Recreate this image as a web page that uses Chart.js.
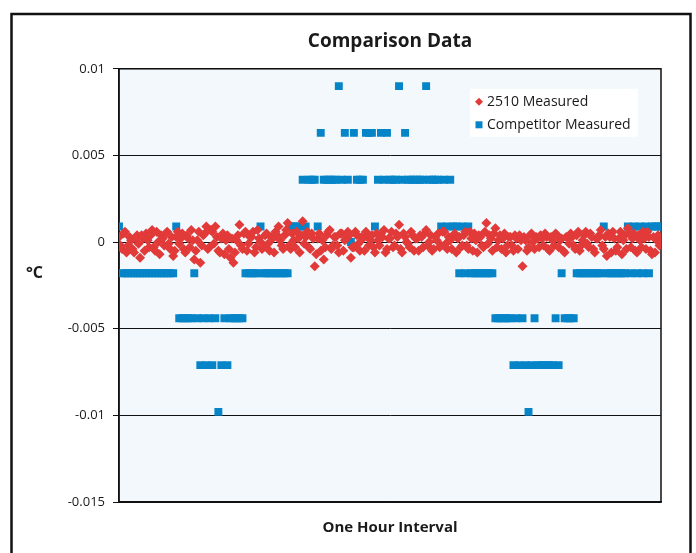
<!DOCTYPE html>
<html>
<head>
<meta charset="utf-8">
<script src="https://cdn.jsdelivr.net/npm/chart.js@4"></script>
<style>
html, body { margin: 0; padding: 0; background: #fff; }
#wrap { width: 696px; height: 553px; position: relative; }
</style>
</head>
<body>
<div id="wrap"><canvas id="chart"></canvas></div>
<script>
// competitor sensor: 181 readings over the hour; 2510: 361 readings (twice as often)
const competitorIndex = Array.from({ length: 181 }, (_, i) => i)
const measuredIndex = Array.from({ length: 361 }, (_, i) => i / 2)

const measured2510 = [
  0.0003, -0.0002, -0.0004, 0.0005, 0.0006, -0.0006, -0.0002, 0.0003, 0.0001, -0.0004,
  -0.0006, 0.0002, 0.0004, -0.0001, -0.0009, 0.0004, 0.0002, -0.0005, 0.0005, 0.0001,
  -0.0003, 0.0004, 0.0007, -0.0003, -0.0005, 0.0006, 0.0000, -0.0007, 0.0004, 0.0002,
  -0.0002, 0.0005, 0.0006, -0.0001, -0.0004, 0.0003, -0.0008, -0.0005, 0.0003, 0.0006,
  -0.0001, 0.0002, 0.0005, -0.0004, -0.0006, 0.0004, 0.0002, -0.0003, 0.0007, 0.0001,
  -0.0010, -0.0005, 0.0001, 0.0006, -0.0012, -0.0002, 0.0004, 0.0005, 0.0009, -0.0004,
  -0.0003, 0.0007, 0.0006, -0.0001, 0.0009, 0.0003, -0.0005, -0.0006, 0.0002, 0.0005,
  -0.0007, 0.0001, 0.0004, -0.0004, -0.0009, 0.0002, -0.0012, -0.0006, 0.0001, 0.0004,
  0.0010, -0.0002, -0.0004, 0.0005, 0.0006, -0.0005, -0.0001, 0.0003, 0.0003, 0.0006,
  -0.0006, -0.0003, 0.0007, 0.0002, 0.0000, -0.0004, -0.0003, 0.0004, 0.0005, -0.0001,
  -0.0005, 0.0003, 0.0002, -0.0006, 0.0006, 0.0004, 0.0009, 0.0001, -0.0002, -0.0004,
  0.0004, 0.0007, 0.0011, -0.0002, -0.0004, 0.0005, 0.0001, -0.0003, 0.0006, 0.0002,
  -0.0006, 0.0004, 0.0012, -0.0001, 0.0003, 0.0006, -0.0003, -0.0004, 0.0005, 0.0002,
  -0.0014, -0.0007, 0.0002, 0.0005, -0.0005, 0.0001, -0.0010, -0.0003, 0.0004, 0.0006,
  0.0007, -0.0004, -0.0002, 0.0003, 0.0003, -0.0002, -0.0006, 0.0005, 0.0005, -0.0005,
  0.0001, 0.0002, 0.0006, 0.0004, -0.0009, -0.0003, -0.0003, 0.0006, 0.0004, -0.0001,
  -0.0005, 0.0003, 0.0002, -0.0005, 0.0006, 0.0004, -0.0002, 0.0001, 0.0004, -0.0003,
  -0.0006, 0.0005, 0.0001, -0.0002, 0.0005, 0.0003, 0.0007, -0.0006, -0.0004, 0.0002,
  0.0002, 0.0006, -0.0003, -0.0002, 0.0005, 0.0003, 0.0010, -0.0004, -0.0006, 0.0005,
  0.0003, 0.0000, -0.0001, -0.0003, 0.0006, 0.0004, -0.0005, 0.0002, 0.0002, -0.0005,
  0.0004, 0.0003, -0.0003, 0.0005, 0.0007, -0.0002, 0.0000, 0.0004, -0.0005, -0.0004,
  0.0003, 0.0001, 0.0005, -0.0003, -0.0002, 0.0006, 0.0006, -0.0001, -0.0004, 0.0003,
  0.0001, -0.0004, 0.0004, 0.0005, -0.0006, 0.0002, 0.0003, -0.0003, -0.0002, 0.0004,
  0.0006, -0.0002, -0.0004, 0.0006, 0.0002, -0.0005, 0.0005, 0.0001, -0.0006, 0.0004,
  0.0003, -0.0002, -0.0003, 0.0006, 0.0011, -0.0001, 0.0004, 0.0002, -0.0005, 0.0005,
  0.0008, -0.0003, 0.0001, 0.0004, -0.0004, 0.0002, 0.0005, -0.0006, -0.0002, 0.0003,
  0.0003, -0.0002, -0.0005, 0.0004, 0.0002, -0.0004, 0.0004, 0.0001, -0.0014, 0.0003,
  0.0001, -0.0005, -0.0003, 0.0004, 0.0005, 0.0000, -0.0004, 0.0003, 0.0002, -0.0003,
  0.0004, 0.0002, -0.0002, 0.0005, 0.0003, -0.0004, -0.0005, 0.0003, 0.0001, -0.0002,
  0.0005, 0.0004, -0.0003, 0.0001, 0.0002, -0.0005, -0.0006, 0.0003, 0.0003, -0.0001,
  0.0005, 0.0003, -0.0002, -0.0004, 0.0004, 0.0006, -0.0005, -0.0002, 0.0001, 0.0004,
  0.0006, -0.0001, -0.0003, 0.0005, 0.0003, -0.0004, -0.0006, 0.0002, 0.0002, 0.0004,
  0.0007, -0.0002, -0.0004, 0.0003, -0.0008, 0.0005, 0.0003, -0.0006, 0.0006, 0.0002,
  -0.0005, -0.0003, 0.0002, 0.0006, -0.0007, 0.0001, 0.0004, -0.0004, 0.0008, 0.0005,
  -0.0003, 0.0002, 0.0005, -0.0005, -0.0006, 0.0004, 0.0001, -0.0003, 0.0006, 0.0002,
  -0.0004, 0.0006, 0.0003, -0.0005, -0.0007, 0.0003, -0.0006, 0.0001, 0.0004, -0.0002,
  0.0001
]

const competitorMeasured = [
  0.0009, -0.0018, -0.0018, -0.0018, -0.0018, -0.0018, -0.0018, -0.0018, -0.0018, -0.0018,
  -0.0018, -0.0018, -0.0018, -0.0018, -0.0018, -0.0018, -0.0018, -0.0018, -0.0018, 0.0009,
  -0.0044, -0.0044, -0.0044, -0.0044, -0.0044, -0.0018, -0.0044, -0.0071, -0.0044, -0.0071,
  -0.0044, -0.0071, -0.0044, -0.0098, -0.0071, -0.0044, -0.0071, -0.0044, -0.0044, -0.0044,
  -0.0044, -0.0044, -0.0018, -0.0018, -0.0018, -0.0018, -0.0018, 0.0009, -0.0018, -0.0018,
  -0.0018, -0.0018, -0.0018, -0.0018, -0.0018, -0.0018, -0.0018, 0.0009, 0.0009, 0.0009,
  0.0009, 0.0036, 0.0009, 0.0036, 0.0036, 0.0036, 0.0009, 0.0063, 0.0036, 0.0036,
  0.0036, 0.0036, 0.0036, 0.0090, 0.0036, 0.0063, 0.0036, 0.0000, 0.0063, 0.0036,
  0.0036, 0.0036, 0.0063, 0.0063, 0.0063, 0.0009, 0.0036, 0.0063, 0.0036, 0.0063,
  0.0036, 0.0036, 0.0036, 0.0090, 0.0036, 0.0063, 0.0036, 0.0036, 0.0036, 0.0036,
  0.0036, 0.0036, 0.0090, 0.0036, 0.0036, 0.0036, 0.0036, 0.0009, 0.0036, 0.0009,
  0.0036, 0.0009, 0.0009, -0.0018, 0.0009, -0.0018, 0.0009, -0.0018, -0.0018, -0.0018,
  -0.0018, -0.0018, -0.0018, -0.0018, -0.0018, -0.0044, -0.0044, -0.0044, -0.0044, -0.0044,
  -0.0044, -0.0071, -0.0044, -0.0071, -0.0044, -0.0071, -0.0098, -0.0071, -0.0044, -0.0071,
  -0.0071, -0.0071, -0.0071, -0.0071, -0.0071, -0.0044, -0.0071, -0.0018, -0.0044, -0.0044,
  -0.0044, -0.0044, -0.0018, -0.0018, -0.0018, -0.0018, -0.0018, -0.0018, -0.0018, -0.0018,
  -0.0018, 0.0009, -0.0018, -0.0018, -0.0018, -0.0018, -0.0018, -0.0018, -0.0018, 0.0009,
  -0.0018, 0.0009, -0.0018, 0.0009, -0.0018, 0.0009, -0.0018, 0.0009, 0.0009, 0.0009,
  0.0009
]

const yMin = -0.015
const yMax = 0.01
const yStep = 0.005

const red = '#E13A38'
const blue = '#0684C8'
const ink = '#1a1a1a'

const framePlugin = {
  id: 'frame',
  beforeDraw(chart) {
    const ctx = chart.ctx
    const a = chart.chartArea
    ctx.save()
    ctx.fillStyle = '#fff'
    ctx.fillRect(0, 0, chart.width, chart.height)
    ctx.fillStyle = '#F2F8FC'
    ctx.fillRect(a.left, a.top, a.right - a.left, a.bottom - a.top)
    ctx.lineWidth = 2.5
    ctx.strokeStyle = '#111'
    ctx.strokeRect(11.5, 14, 679, 600)
    ctx.restore()
  },
  beforeDatasetsDraw(chart) {
    const ctx = chart.ctx
    const a = chart.chartArea
    ctx.save()
    ctx.lineWidth = 1.5
    ctx.strokeStyle = '#111'
    ctx.strokeRect(a.left, a.top, a.right - a.left, a.bottom - a.top)
    ctx.restore()
  },
  afterDraw(chart) {
    const ctx = chart.ctx
    const a = chart.chartArea
    ctx.save()
    // unit label, horizontal
    ctx.fillStyle = ink
    ctx.font = 'bold 16px "Open Sans"'
    ctx.textBaseline = 'middle'
    ctx.fillText('°C', 26, 273)

    // legend box inside the plot
    const bx = a.right - 191
    const by = a.top + 20
    ctx.fillStyle = '#fff'
    ctx.fillRect(bx, by, 168, 48)
    ctx.font = '14px "Open Sans"'
    chart.data.datasets.forEach((d, k) => {
      const y = by + 13 + k * 23
      const x = bx + 9
      ctx.fillStyle = d.backgroundColor
      ctx.beginPath()
      if (d.pointStyle === 'rectRot') {
        ctx.moveTo(x - 4, y); ctx.lineTo(x, y - 4); ctx.lineTo(x + 4, y); ctx.lineTo(x, y + 4)
        ctx.closePath()
        ctx.fill()
      } else {
        ctx.fillRect(x - 3.5, y - 3.5, 7, 7)
      }
      ctx.fillStyle = ink
      ctx.fillText(d.label, x + 8, y)
    })
    ctx.restore()
  }
}

const ctx = document.getElementById('chart')
new Chart(ctx, {
  type: 'scatter',
  data: {
    datasets: [{
      label: '2510 Measured',
      data: measuredIndex.map((x, i) => ({ x, y: measured2510[i] })),
      backgroundColor: red,
      borderWidth: 0,
      pointStyle: 'rectRot',
      pointRadius: 5,
      pointHoverRadius: 5
    }, {
      label: 'Competitor Measured',
      data: competitorIndex.map((x, i) => ({ x, y: competitorMeasured[i] })),
      backgroundColor: blue,
      borderWidth: 0,
      pointStyle: 'rect',
      pointRadius: 5.6,
      pointHoverRadius: 5.6
    }]
  },
  options: {
    responsive: true,
    maintainAspectRatio: false,
    animation: false,
    layout: {
      padding: { left: 0, right: 35, top: 0, bottom: 16 }
    },
    plugins: {
      legend: { display: false },
      tooltip: { enabled: false },
      title: {
        display: true,
        fullSize: false,
        text: 'Comparison Data',
        color: ink,
        font: { family: "'Open Sans', sans-serif", size: 19, weight: 'bold' },
        padding: { top: 30, bottom: 16 }
      }
    },
    scales: {
      x: {
        type: 'linear',
        min: 0,
        max: competitorIndex.length - 1,
        ticks: { display: false },
        grid: { display: false, drawTicks: false },
        border: { display: true, color: '#111', width: 1.5 },
        title: {
          display: true,
          text: 'One Hour Interval',
          color: ink,
          font: { family: "'Open Sans', sans-serif", size: 15, weight: 'bold' },
          padding: { top: 17, bottom: 0 }
        }
      },
      y: {
        min: yMin,
        max: yMax,
        afterFit: (scale) => { scale.width = 119 },
        ticks: {
          stepSize: yStep,
          color: ink,
          padding: 8,
          font: { family: "'Open Sans', sans-serif", size: 13 },
          callback: (v) => {
            const r = Math.round(v * 1000) / 1000
            return r === 0 ? '0' : String(r)
          }
        },
        grid: { color: '#111', lineWidth: 1, tickLength: 6 },
        border: { color: '#111', width: 1.5 }
      }
    }
  },
  plugins: [framePlugin]
})
</script>
</body>
</html>
